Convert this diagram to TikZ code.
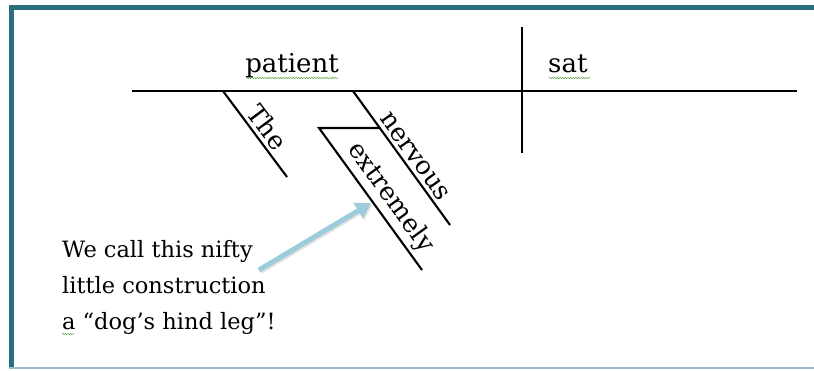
\documentclass[tikz,border=0pt]{standalone}
\usepackage{fontspec}
\setmainfont{DejaVu Serif}
\usetikzlibrary{arrows.meta,calc,decorations.pathmorphing}
\definecolor{frameteal}{RGB}{42,110,128}
\definecolor{framelight}{RGB}{150,188,198}
\definecolor{arrowblue}{RGB}{156,204,218}
\definecolor{squig}{RGB}{80,160,60}
\tikzset{
  diagline/.style={line width=2.1pt, black},
  slopedlbl/.style={sloped, above, inner sep=3.5pt, font=\fontsize{25.5}{28}\selectfont},
  toplbl/.style={anchor=base, inner sep=0pt, font=\fontsize{26}{30}\selectfont},
  calltext/.style={anchor=base west, inner sep=0pt, font=\fontsize{22.5}{36}\selectfont},
  squiggle/.style={squig, line width=0.5pt, decorate, decoration={snake, amplitude=0.6pt, segment length=2.6pt}},
  callarrow/.style={line width=5pt, arrowblue, -{Triangle[length=15pt,width=17pt]}},
  callshadow/.style={line width=5pt, black, opacity=0.12, -{Triangle[length=15pt,width=17pt]}}
}
\begin{document}
\begin{tikzpicture}[x=1pt,y=-1pt]
\useasboundingbox (0,0) rectangle (814,371);
\fill[white] (0,0) rectangle (814,371);
% frame
\fill[frameteal] (9,5) rectangle (814,10);
\fill[frameteal] (9,5) rectangle (14,368);
\fill[framelight] (9,367) rectangle (814,368.6);

% main lines
\coordinate (L) at (132,91);
\coordinate (R) at (797,91);
\coordinate (VT) at (522,27);
\coordinate (VB) at (522,153);
\draw[diagline] (L) -- (R);
\draw[diagline] (VT) -- (VB);

% modifiers
\coordinate (T1) at (223,91);
\coordinate (T2) at (287,177);
\coordinate (N1) at (353,91);
\coordinate (N2) at (450,225);
\coordinate (H0) at (319,128);
\coordinate (H1) at ($(N1)!0.276!(N2)$);
\coordinate (H2) at (422,270);
\draw[diagline] (T1) -- (T2) node[slopedlbl, pos=0.52] (the) {The};
\draw[diagline] (N1) -- (N2) node[slopedlbl, pos=0.54] (nerv) {nervous};
\draw[diagline] (H1) -- (H0) -- (H2) node[slopedlbl, pos=0.56] (ext) {extremely};

% words on the base line
\node[toplbl] (patient) at (292,73) {patient};
\node[toplbl, anchor=base west] (sat) at (548,73) {sat};
\draw[squiggle] (246,78) -- (338,78);
\draw[squiggle] (549,78) -- (590,78);

% callout
\node[calltext] (c1) at (62,258) {We call this nifty};
\node[calltext] (c2) at (62,294) {little construction};
\node[calltext] (c3) at (62,330) {a “dog’s hind leg”!};
\draw[squiggle] (62,334) -- (74,334);

\coordinate (A1) at (259,270);
\coordinate (A2) at (371,203);
\draw[callshadow] ($(A1)+(1.5,1.5)$) -- ($(A2)+(1.5,1.5)$);
\draw[callarrow] (A1) -- (A2);
\end{tikzpicture}
\end{document}
